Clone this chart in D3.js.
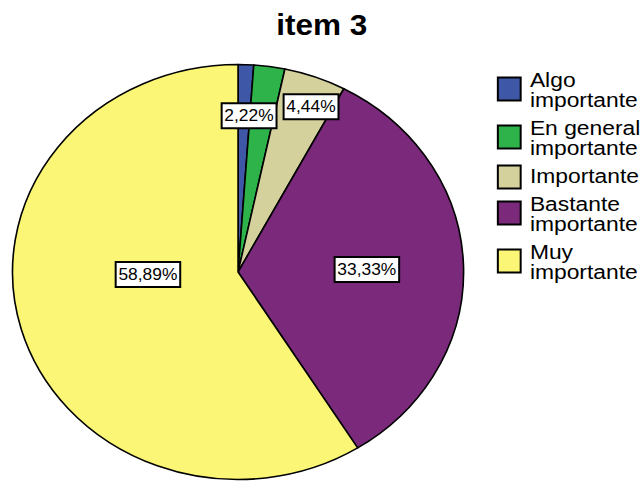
<!DOCTYPE html>
<html>
<head>
<meta charset="utf-8">
<script src="https://cdn.jsdelivr.net/npm/d3@7"></script>
<style>
  html, body { margin: 0; padding: 0; background: #fff; }
  svg { display: block; font-family: Arial, "Liberation Sans", sans-serif; }
</style>
</head>
<body>
<svg id="chart" width="641" height="481"></svg>
<script>
// ---- data ----
const title = "item 3";
const categories = ["Algo importante", "En general importante", "Importante", "Bastante importante", "Muy importante"];
const legendLines = [["Algo", "importante"], ["En general", "importante"], ["Importante"], ["Bastante", "importante"], ["Muy", "importante"]];
const percents = [1.11, 2.22, 4.44, 33.33, 58.89];
const colors = ["#3f57a7", "#2db34a", "#d5d19c", "#7b297b", "#fbf675"];
// label placement: [angle shift from slice middle (deg), radius fraction]; null = no label
const labelPlacement = [null, [-4.3, 0.755], [2.1, 0.86], [0.8, 0.571], [14.3, 0.40]];

// ---- layout ----
const W = 641, H = 481;
const stretchX = 1.087;
const cx = 219, cy = 272, R = 207.5;

const svg = d3.select("#chart");
const root = svg.append("g").attr("transform", `scale(${stretchX},1)`);

root.append("text")
  .attr("x", 296).attr("y", 35)
  .attr("text-anchor", "middle")
  .attr("font-weight", "bold")
  .attr("font-size", 29)
  .text(title);

const pie = d3.pie().sort(null).value(d => d);
const arcs = pie(percents);
const arc = d3.arc().innerRadius(0).outerRadius(R);

const pg = root.append("g").attr("transform", `translate(${cx},${cy})`);
pg.selectAll("path.slice").data(arcs).enter().append("path")
  .attr("class", "slice")
  .attr("d", arc)
  .attr("fill", (d, i) => colors[i])
  .attr("stroke", "#000")
  .attr("stroke-width", 1.6)
  .attr("stroke-linejoin", "round")
  .attr("vector-effect", "non-scaling-stroke");

const fmt = v => v.toFixed(2).replace(".", ",") + "%";

arcs.forEach((d, i) => {
  const p = labelPlacement[i];
  if (!p) return;
  const mid = (d.startAngle + d.endAngle) / 2 + p[0] * Math.PI / 180;
  const lr = R * p[1];
  const la = d3.arc().innerRadius(lr).outerRadius(lr);
  const c = la.centroid({startAngle: mid, endAngle: mid});
  const g = pg.append("g").attr("transform", `translate(${c[0]},${c[1]})`);
  const rect = g.append("rect");
  const t = g.append("text")
    .attr("text-anchor", "middle")
    .attr("dy", "0.36em")
    .attr("font-size", 16)
    .attr("fill", "#000")
    .text(fmt(percents[i]));
  const bb = t.node().getBBox();
  const padX = 2.5, h = 25;
  rect.attr("x", bb.x - padX).attr("y", -h / 2)
    .attr("width", bb.width + 2 * padX).attr("height", h)
    .attr("fill", "#fff").attr("stroke", "#000").attr("stroke-width", 2)
    .attr("vector-effect", "non-scaling-stroke");
});

// ---- legend ----
const lg = root.append("g");
const legX = 458, textX = 487.5, lineH = 20, gap = 28, swW = 21, swH = 23;
let baseline = 87;
categories.forEach((c, i) => {
  const lines = legendLines[i];
  const first = baseline, last = baseline + (lines.length - 1) * lineH;
  const center = (first + last) / 2 - 8 + (lines.length === 1 ? 2 : 0);
  lg.append("rect")
    .attr("x", legX).attr("y", center - swH / 2)
    .attr("width", swW).attr("height", swH)
    .attr("fill", colors[i]).attr("stroke", "#000").attr("stroke-width", 2)
    .attr("vector-effect", "non-scaling-stroke");
  const t = lg.append("text").attr("font-size", 21).attr("fill", "#000");
  lines.forEach((ln, k) => {
    t.append("tspan").attr("x", textX).attr("y", first + k * lineH).text(ln);
  });
  baseline = last + gap;
});
</script>
</body>
</html>
